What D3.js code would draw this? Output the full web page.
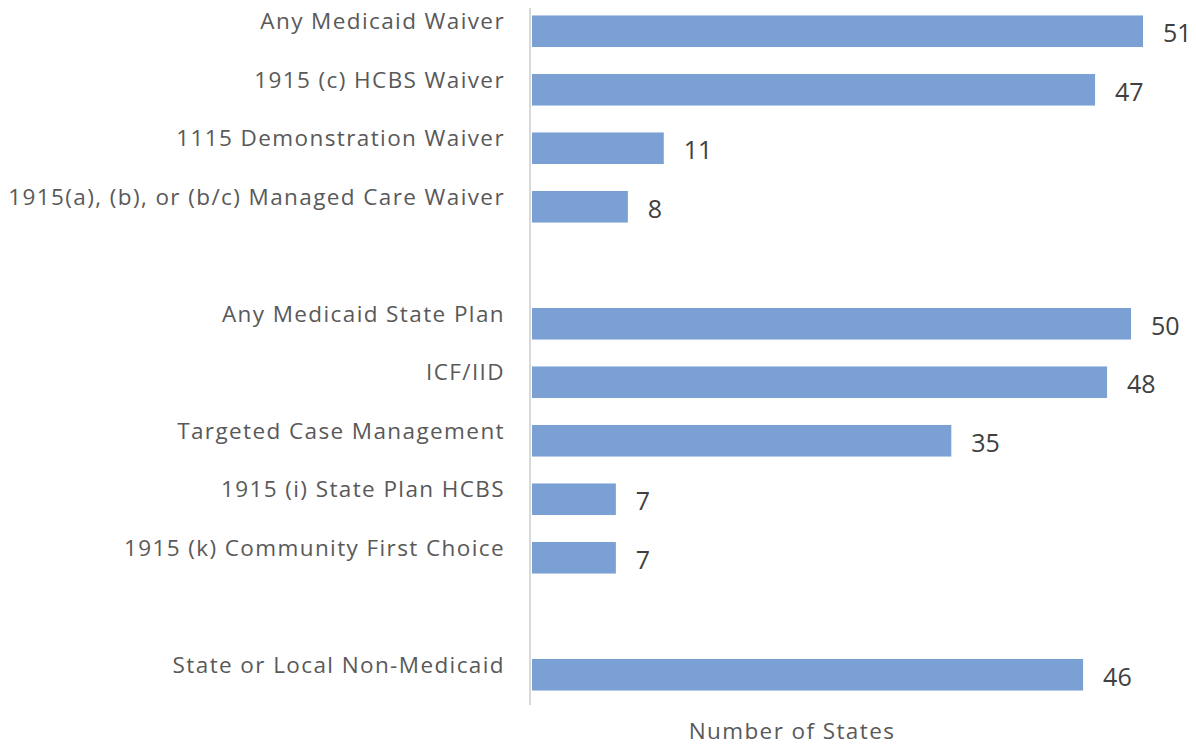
<!DOCTYPE html>
<html>
<head>
<meta charset="utf-8">
<script src="https://cdn.jsdelivr.net/npm/d3@7"></script>
<style>
  body { margin: 0; background: #fff; }
  svg { font-family: "Open Sans", sans-serif; }
</style>
</head>
<body>
<svg id="chart"></svg>
<script>
// blank entries are the gaps between groups
var categories = [
  "Any Medicaid Waiver",
  "1915 (c) HCBS Waiver",
  "1115 Demonstration Waiver",
  "1915(a), (b), or (b/c) Managed Care Waiver",
  "",
  "Any Medicaid State Plan",
  "ICF/IID",
  "Targeted Case Management",
  "1915 (i) State Plan HCBS",
  "1915 (k) Community First Choice",
  " ",
  "State or Local Non-Medicaid"
];
var values = [51, 47, 11, 8, null, 50, 48, 35, 7, 7, null, 46];
var axisTitle = "Number of States";

var width = 1196, height = 747;
var x0 = 532;

var svg = d3.select("#chart").attr("width", width).attr("height", height);

var x = d3.scaleLinear().domain([0, 51]).range([x0, 1143]);
var y = d3.scaleBand().domain(categories).range([2, 704]).paddingInner(0.46).paddingOuter(0.23);

var rows = categories.map(function(c, i) { return {cat: c, val: values[i]}; });
var bars = rows.filter(function(d) { return d.val != null; });

svg.selectAll("rect.bar")
  .data(bars)
  .enter().append("rect")
  .attr("class", "bar")
  .attr("x", x(0))
  .attr("y", function(d) { return y(d.cat); })
  .attr("width", function(d) { return x(d.val) - x(0); })
  .attr("height", y.bandwidth())
  .attr("fill", "#7ba0d4");

// category labels sit a little above the bar centre
svg.selectAll("text.cat")
  .data(bars)
  .enter().append("text")
  .attr("class", "cat")
  .attr("x", 505)
  .attr("y", function(d) { return y(d.cat) + y.bandwidth() / 2 - 10; })
  .attr("dy", "0.35em")
  .attr("text-anchor", "end")
  .attr("font-size", "22.5px")
  .attr("letter-spacing", "1.4px")
  .attr("fill", "#595959")
  .text(function(d) { return d.cat; });

svg.selectAll("text.val")
  .data(bars)
  .enter().append("text")
  .attr("class", "val")
  .attr("x", function(d) { return x(d.val) + 20; })
  .attr("y", function(d) { return y(d.cat) + y.bandwidth() / 2 + 2; })
  .attr("dy", "0.35em")
  .attr("font-size", "25px")
  .attr("fill", "#404040")
  .text(function(d) { return d.val; });

// vertical axis line
svg.append("line")
  .attr("x1", x0 - 2).attr("x2", x0 - 2)
  .attr("y1", 8).attr("y2", 705)
  .attr("stroke", "#d9d9d9")
  .attr("stroke-width", 2);

svg.append("text")
  .attr("x", 792)
  .attr("y", 731)
  .attr("dy", "0.35em")
  .attr("text-anchor", "middle")
  .attr("font-size", "22.5px")
  .attr("letter-spacing", "1.4px")
  .attr("fill", "#595959")
  .text(axisTitle);
</script>
</body>
</html>
